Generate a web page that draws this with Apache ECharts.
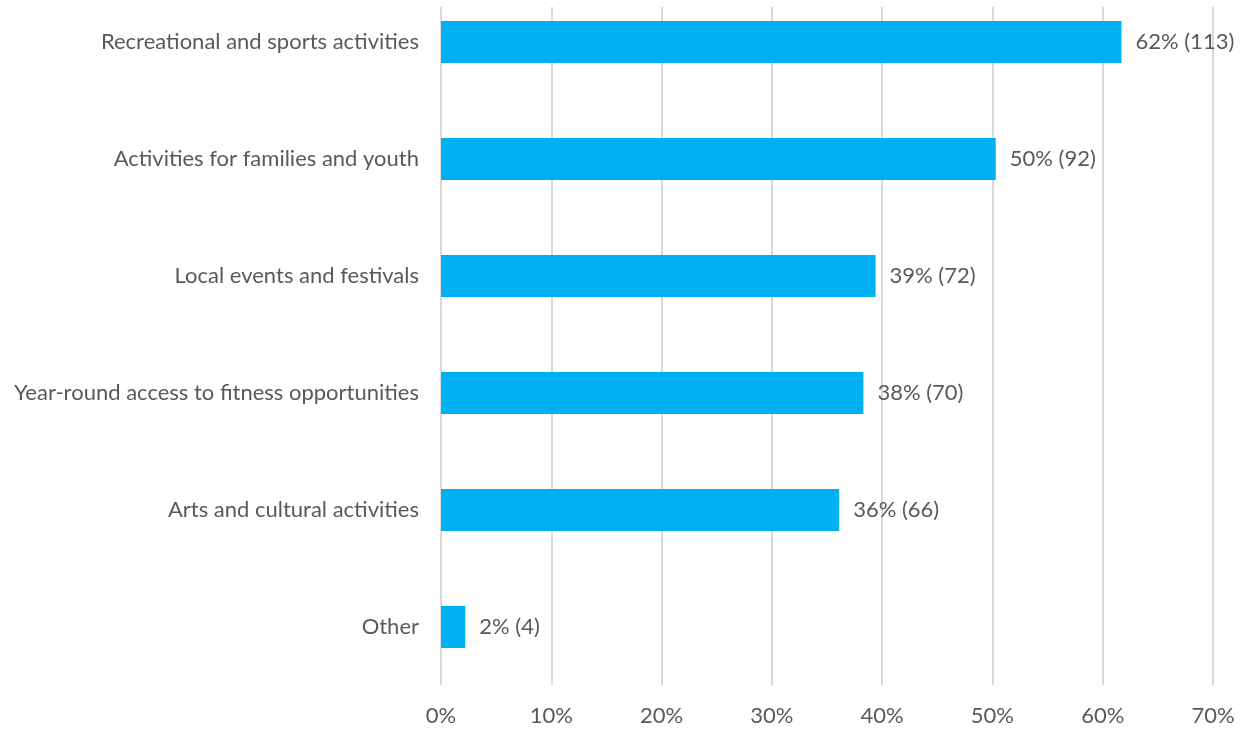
<!DOCTYPE html>
<html><head><meta charset="utf-8">
<script src="https://cdn.jsdelivr.net/npm/echarts@6/dist/echarts.min.js"></script>
<style>html,body{margin:0;padding:0;background:#fff}#c{width:1240px;height:729px}</style>
</head><body><div id="c"></div>
<script>
const categories = ["Recreational and sports activities","Activities for families and youth","Local events and festivals","Year-round access to fitness opportunities","Arts and cultural activities","Other"];
const percents = [61.7, 50.3, 39.4, 38.3, 36.1, 2.2];
const counts = [113, 92, 72, 70, 66, 4];
const xTicks = [0,10,20,30,40,50,60,70];

const chart = echarts.init(document.getElementById('c'), null, {renderer:'canvas'});
const font = 'Lato, "Open Sans", sans-serif';
const xMin = xTicks[0], xMax = xTicks[xTicks.length-1];
chart.setOption({
  animation:false,
  grid:[
    {left:441, right:27, top:42, bottom:102},
    {left:441, right:27, top:7, bottom:44}
  ],
  xAxis:[
    {gridIndex:0, type:'value', min:xMin, max:xMax, interval:10, show:false},
    {gridIndex:1, type:'value', min:xMin, max:xMax, interval:10,
      axisLine:{show:false}, axisTick:{show:false},
      splitLine:{lineStyle:{color:'#d9d9d9', width:2}},
      axisLabel:{formatter:'{value}%', color:'#595959', fontSize:22, fontFamily:font, margin:20}}
  ],
  yAxis:[
    {gridIndex:0, type:'category', inverse:true, data:categories, boundaryGap:false,
      axisLine:{show:false}, axisTick:{show:false}, splitLine:{show:false},
      axisLabel:{color:'#595959', fontSize:22, fontFamily:font, margin:22}},
    {gridIndex:1, type:'value', show:false}
  ],
  series:[{type:'bar', xAxisIndex:0, yAxisIndex:0, data:percents, barWidth:42, itemStyle:{color:'#00b0f0'}, z:3,
    label:{show:true, position:'right', distance:14, color:'#595959', fontSize:22, fontFamily:font,
      formatter:p=>Math.round(p.value)+'% ('+counts[p.dataIndex]+')'}}]
});
</script></body></html>
